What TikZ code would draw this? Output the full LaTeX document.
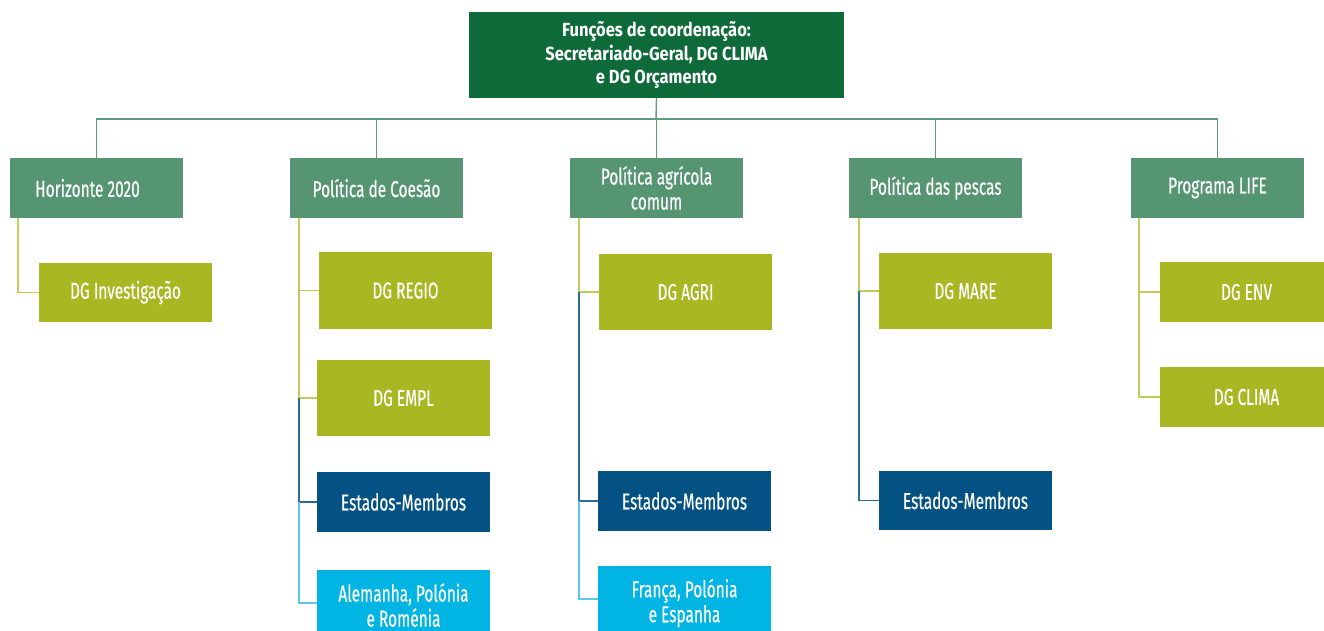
\documentclass[tikz,border=0pt]{standalone}
\usepackage{fontspec}
\setmainfont[FakeStretch=0.67,FakeBold=0.4]{Fira Sans}
\newfontfamily\topfont[FakeStretch=0.87]{Fira Sans}
\definecolor{dkgreen}{HTML}{0E6B39}
\definecolor{midgreen}{HTML}{559572}
\definecolor{limeg}{HTML}{A9B723}
\definecolor{dkblue}{HTML}{035283}
\definecolor{cyanb}{HTML}{00B5E3}
\definecolor{busline}{HTML}{5E9B7B}
\definecolor{limeline}{HTML}{BFCB5A}
\definecolor{blueline}{HTML}{2E6A98}
\definecolor{cyanline}{HTML}{5CC8EC}
\begin{document}
\begin{tikzpicture}[x=1pt,y=-1pt,
  box/.style={anchor=north west,inner sep=0pt,outer sep=0pt,align=center,text=white,
    minimum width=173pt,font=\fontsize{23}{25}\selectfont},
  topbox/.style={box,fill=dkgreen,minimum width=375pt,minimum height=86pt,
    font=\topfont\bfseries\fontsize{19}{23.5}\selectfont},
  polbox/.style={box,fill=midgreen,minimum height=60pt},
  dgbox/.style={box,fill=limeg},
  msbox/.style={box,fill=dkblue,minimum height=60pt},
  ctbox/.style={box,fill=cyanb,minimum height=64pt},
  bus/.style={draw=busline,line width=1.4pt},
  limec/.style={draw=limeline,line width=1.6pt},
  bluec/.style={draw=blueline,line width=1.6pt},
  cyanc/.style={draw=cyanline,line width=1.6pt}]
\useasboundingbox (0,0) rectangle (1324,630);
\fill[white] (0,0) rectangle (1324,630);

% top
\node[topbox] (top) at (469,12) {Funções de coordenação:\\Secretariado-Geral, DG CLIMA\\e DG Orçamento};

% level 1
\node[polbox] (p1) at (10,158) {Horizonte 2020\hspace{18pt}};
\node[polbox] (p2) at (290,158) {Política de Coesão};
\node[polbox] (p3) at (570,158) {Política agrícola\\comum};
\node[polbox] (p4) at (849,158) {Política das pescas};
\node[polbox] (p5) at (1131,158) {Programa LIFE};

% children
\node[dgbox,minimum height=59pt] (c11) at (39,263) {DG Investigação};

\node[dgbox,minimum height=77pt] (c21) at (319,252) {DG REGIO};
\node[dgbox,minimum height=76pt] (c22) at (317,360) {DG EMPL};
\node[msbox] (c23) at (317,472) {Estados-Membros};
\node[ctbox,minimum height=70pt] (c24) at (317,570) {Alemanha, Polónia\\e Roménia};

\node[dgbox,minimum height=76pt] (c31) at (599,254) {DG AGRI};
\node[msbox] (c32) at (598,471) {Estados-Membros};
\node[ctbox,minimum height=74pt] (c33) at (598,566) {França, Polónia\\e Espanha};

\node[dgbox,minimum height=76pt] (c41) at (879,253) {DG MARE};
\node[msbox,minimum height=59pt] (c42) at (879,471) {Estados-Membros};

\node[dgbox,minimum height=60pt] (c51) at (1160,262) {DG ENV};
\node[dgbox,minimum height=60pt] (c52) at (1160,367) {DG CLIMA};

% bus
\coordinate (busy) at (656,119);
\draw[bus] (top.south) -- (busy);
\draw[bus] (p1.north) |- (busy) -| (p5.north);
\draw[bus] (p2.north) -- (p2.north |- busy);
\draw[bus] (p3.north) -- (p3.north |- busy);
\draw[bus] (p4.north) -- (p4.north |- busy);

% child connectors
\coordinate (v1) at ([xshift=8pt]p1.south west);
\draw[limec] (v1) |- (c11.west);

\coordinate (v2) at ([xshift=9pt]p2.south west);
\draw[limec] (v2) |- (c21.west);
\draw[limec] (v2 |- c21.west) |- (c22.west);
\draw[bluec] (v2 |- c22.west) |- (c23.west);
\draw[cyanc] (v2 |- c23.west) |- ([yshift=2pt]c24.west);

\coordinate (v3) at ([xshift=9pt]p3.south west);
\draw[limec] (v3) |- (c31.west);
\draw[bluec] (v3 |- c31.west) |- (c32.west);
\draw[cyanc] (v3 |- c32.west) |- ([yshift=4pt]c33.west);

\coordinate (v4) at ([xshift=10pt]p4.south west);
\draw[limec] (v4) |- (c41.west);
\draw[bluec] (v4 |- c41.west) |- (c42.west);

\coordinate (v5) at ([xshift=8pt]p5.south west);
\draw[limec] (v5) |- (c51.west);
\draw[limec] (v5 |- c51.west) |- (c52.west);
\end{tikzpicture}
\end{document}
